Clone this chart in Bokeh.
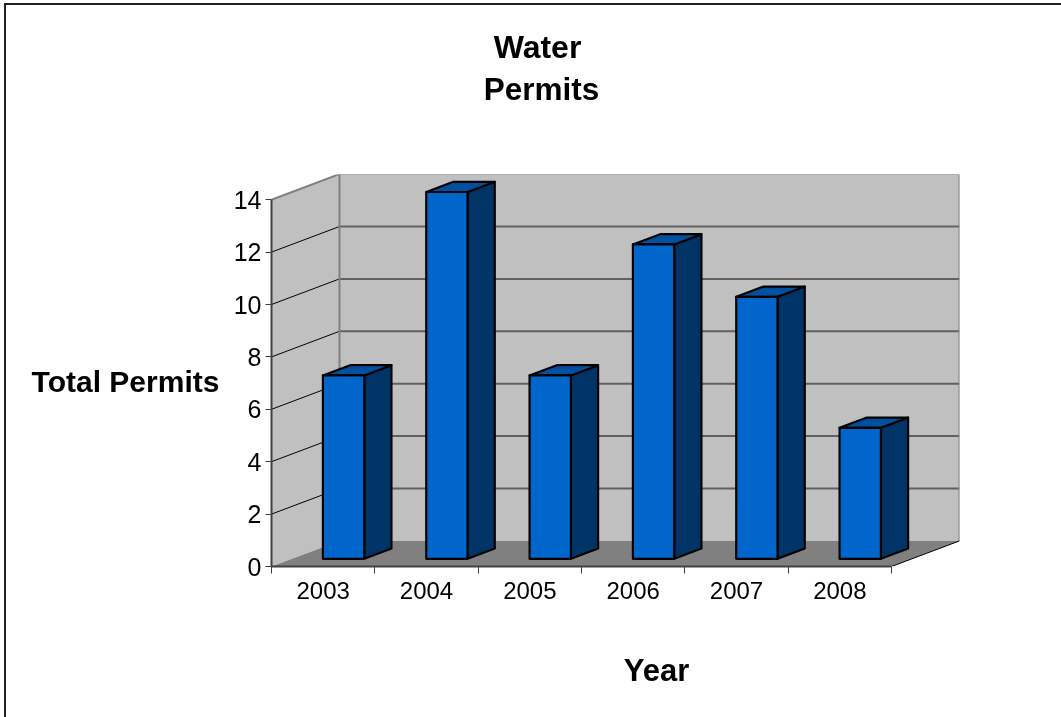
from bokeh.plotting import figure
from bokeh.embed import file_html
from bokeh.resources import INLINE
from bokeh.models import Range1d, LinearAxis, FixedTicker, Label

categories = ["2003", "2004", "2005", "2006", "2007", "2008"]
permits = [7, 14, 7, 12, 10, 5]
y_ticks = [0, 2, 4, 6, 8, 10, 12, 14]
title_lines = ["Water", "Permits"]
y_title = "Total Permits"
x_title = "Year"

W, H = 1061, 717
L, R, T, B = 271, 959, 174, 566
PX_X = 620 / 6
PX_Y = 26.2
DX = 68 / PX_X     # depth shift in category units
DY = 25.6 / PX_Y   # depth shift in value units


def pr(x, y, z):
    return x + z * DX, y + z * DY


def poly(points):
    pts = [pr(*q) for q in points]
    return [q[0] for q in pts], [q[1] for q in pts]


p = figure(width=W, height=H, output_backend="svg", toolbar_location=None,
           x_range=Range1d(0, (R - L) / PX_X), y_range=Range1d(0, (B - T) / PX_Y),
           x_axis_location=None, y_axis_location=None,
           min_border_left=L, min_border_right=W - R, min_border_top=T, min_border_bottom=H - B,
           background_fill_color=None, border_fill_color=None, outline_line_color=None)
p.grid.visible = False
p.styles = {"position": "fixed", "left": "0px", "top": "0px",
            "background": "linear-gradient(#222,#222) 4px 3px/1057px 2px no-repeat,"
                          "linear-gradient(#222,#222) 4px 3px/2px 714px no-repeat"}

n = len(categories)
ymax = y_ticks[-1]
# walls and floor
for q, c in [([(0, 0, 1), (n, 0, 1), (n, ymax, 1), (0, ymax, 1)], "#C0C0C0"),
             ([(0, 0, 0), (0, 0, 1), (0, ymax, 1), (0, ymax, 0)], "#C0C0C0"),
             ([(0, 0, 0), (n, 0, 0), (n, 0, 1), (0, 0, 1)], "#808080")]:
    xs, ys = poly(q)
    p.patch(xs, ys, fill_color=c, line_color=None)

# gridlines
back = [poly([(0, v, 1), (n, v, 1)]) for v in y_ticks[1:-1]]
p.multi_line([b[0] for b in back], [b[1] for b in back], line_color="#606060", line_width=2)
side = [poly([(0, v, 0), (0, v, 1)]) for v in y_ticks[1:-1]]
p.multi_line([b[0] for b in side], [b[1] for b in side], line_color="#000000", line_width=1)
xs, ys = poly([(0, ymax, 0), (0, ymax, 1), (n, ymax, 1), (n, 0, 1)])
p.line(xs, ys, line_color="#808080", line_width=2)
xs, ys = poly([(0, 0, 1), (0, ymax, 1)])
p.line(xs, ys, line_color="#808080", line_width=2)
xs, ys = poly([(n, 0, 0), (n, 0, 1)])
p.line(xs, ys, line_color="#000000", line_width=1)

# bars
x0, x1, z0, z1 = 0.3, 0.7, 0.3, 0.7
for i, v in enumerate(permits):
    a, b = i + x0, i + x1
    faces = [
        ([(b, 0, z0), (b, 0, z1), (b, v, z1), (b, v, z0)], "#003366"),
        ([(a, v, z0), (b, v, z0), (b, v, z1), (a, v, z1)], "#0050A0"),
        ([(a, 0, z0), (b, 0, z0), (b, v, z0), (a, v, z0)], "#0066CC"),
    ]
    for q, c in faces:
        xs, ys = poly(q)
        p.patch(xs, ys, fill_color=c, line_color="#000000", line_width=2.2, line_join="round")

# axes
yax = LinearAxis(ticker=FixedTicker(ticks=y_ticks), bounds=(0, ymax))
yax.axis_line_color = "#404040"
yax.axis_line_width = 2
yax.major_tick_line_color = "#404040"
yax.major_tick_line_width = 1
yax.major_tick_in = 0
yax.major_tick_out = 6
yax.minor_tick_in = 0
yax.minor_tick_out = 0
yax.major_label_standoff = 4
yax.major_label_text_font = "Liberation Sans"
yax.major_label_text_font_size = "25px"
yax.major_label_text_color = "#000000"
p.add_layout(yax, "left")

centers = [i + 0.5 for i in range(n)]
xax = LinearAxis(ticker=FixedTicker(ticks=centers, minor_ticks=list(range(n + 1))), bounds=(0, n),
                 major_label_overrides={c: s for c, s in zip(centers, categories)})
xax.axis_line_color = "#404040"
xax.axis_line_width = 2
xax.major_tick_in = 0
xax.major_tick_out = 0
xax.minor_tick_in = 0
xax.minor_tick_out = 7
xax.minor_tick_line_color = "#404040"
xax.minor_tick_line_width = 1
xax.major_label_standoff = 8
xax.major_label_text_font = "Liberation Sans"
xax.major_label_text_font_size = "24px"
xax.major_label_text_color = "#000000"
p.add_layout(xax, "below")


def lab(text, place, x, y, size):
    p.add_layout(Label(x=x, y=y, x_units="screen", y_units="screen", text=text,
                       text_font="Liberation Sans", text_font_style="bold", text_font_size=size,
                       text_color="#000000", text_align="center", text_baseline="middle"), place)


lab(title_lines[1], "above", 270, 86, "31.5px")
lab(title_lines[0], "above", 266, 92, "32px")
lab(x_title, "below", 385, -34, "31px")
lab(y_title, "left", 83, 185, "30px")

open("out.html", "w").write(file_html(p, INLINE))
